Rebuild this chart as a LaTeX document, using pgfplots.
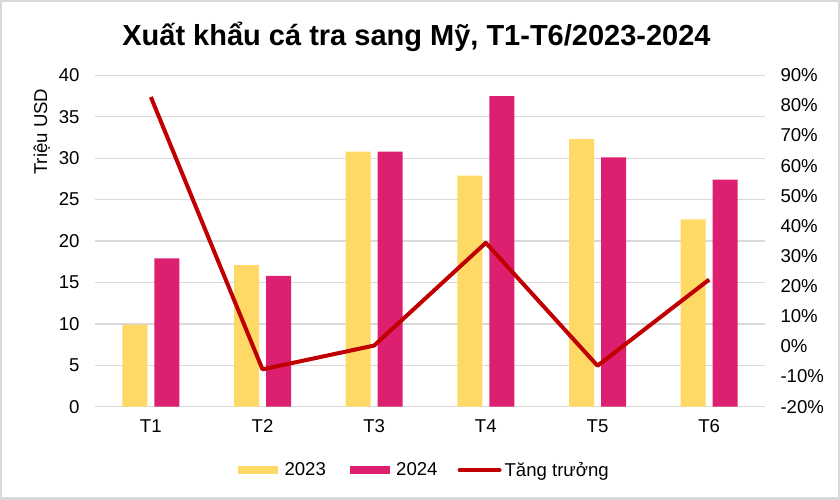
\documentclass[border=0pt]{standalone}
\usepackage{fontspec}
\setmainfont{Liberation Sans}
\usepackage{pgfplots}
\pgfplotsset{compat=1.18}
\definecolor{yel}{HTML}{FFD966}
\definecolor{pnk}{HTML}{DC1F6E}
\definecolor{redl}{HTML}{C00000}
\definecolor{gridc}{HTML}{D9D9D9}
\newcommand{\lab}{\fontsize{18.6}{22}\selectfont}

\begin{document}
\begin{tikzpicture}
\path[use as bounding box] (0pt,0pt) rectangle (840pt,499pt);
\draw[gridc, line width=4pt] (0pt,0pt) rectangle (840pt,499pt);
\node[font=\fontsize{29}{34}\selectfont\bfseries, anchor=base] at (416.5pt,453pt) {Xuất khẩu cá tra sang Mỹ, T1-T6/2023-2024};

% bars, left axis
\begin{axis}[
  at={(95pt,92.3pt)}, anchor=south west,
  scale only axis, width=670pt, height=331.4pt,
  xmin=-0.5, xmax=5.5, ymin=0, ymax=40,
  ytick={0,5,...,40},
  xtick={0,...,5}, xticklabels={T1,T2,T3,T4,T5,T6},
  ymajorgrids, grid style={gridc, line width=1.3pt},
  axis line style={draw=none}, major tick style={draw=none},
  ybar=7pt, bar width=25pt,
  ticklabel style={font=\lab},
  /pgf/number format/assume math mode=true,
  yticklabel style={xshift=-12pt},
  xticklabel style={yshift=-5pt},
  ylabel={Triệu USD},
  ylabel style={at={(rel axis cs:-0.0716,0.83)}, anchor=base, font=\lab},
]
\addplot[fill=yel, draw=none] coordinates {(0,9.9)(1,17.1)(2,30.8)(3,27.9)(4,32.3)(5,22.6)};
\addplot[fill=pnk, draw=none] coordinates {(0,17.9)(1,15.8)(2,30.8)(3,37.5)(4,30.1)(5,27.4)};
\end{axis}

% growth line, right axis
\begin{axis}[
  at={(95pt,92.3pt)}, anchor=south west,
  scale only axis, width=670pt, height=331.4pt,
  xmin=-0.5, xmax=5.5, ymin=-20, ymax=90,
  ytick={-20,-10,...,90},
  yticklabels={-20\%,-10\%,0\%,10\%,20\%,30\%,40\%,50\%,60\%,70\%,80\%,90\%},
  axis y line*=right, axis x line=none,
  axis line style={draw=none}, major tick style={draw=none},
  ticklabel style={font=\lab},
  yticklabel style={xshift=12pt},
  legend columns=-1,
  legend style={at={(rel axis cs:0.4896,-0.191)}, anchor=center, draw=none,
    font=\lab, nodes={inner xsep=3pt},
    /tikz/every even column/.append style={column sep=17pt}},
]
\addlegendimage{legend image code/.code={\draw[yel, line width=7.3pt] (0pt,0pt) -- (40pt,0pt);}}
\addlegendentry{2023}
\addlegendimage{legend image code/.code={\draw[pnk, line width=7.3pt] (0pt,0pt) -- (40pt,0pt);}}
\addlegendentry{2024}
\addplot[redl, line width=4pt, line join=round, mark=none,
  legend image code/.code={\draw[redl, line width=4pt, line cap=round] (0pt,0pt) -- (40pt,0pt);}]
  coordinates {(0,82.8)(1,-7.6)(2,0.3)(3,34.4)(4,-6.4)(5,22.2)};
\addlegendentry{Tăng trưởng}
\end{axis}
\end{tikzpicture}
\end{document}
